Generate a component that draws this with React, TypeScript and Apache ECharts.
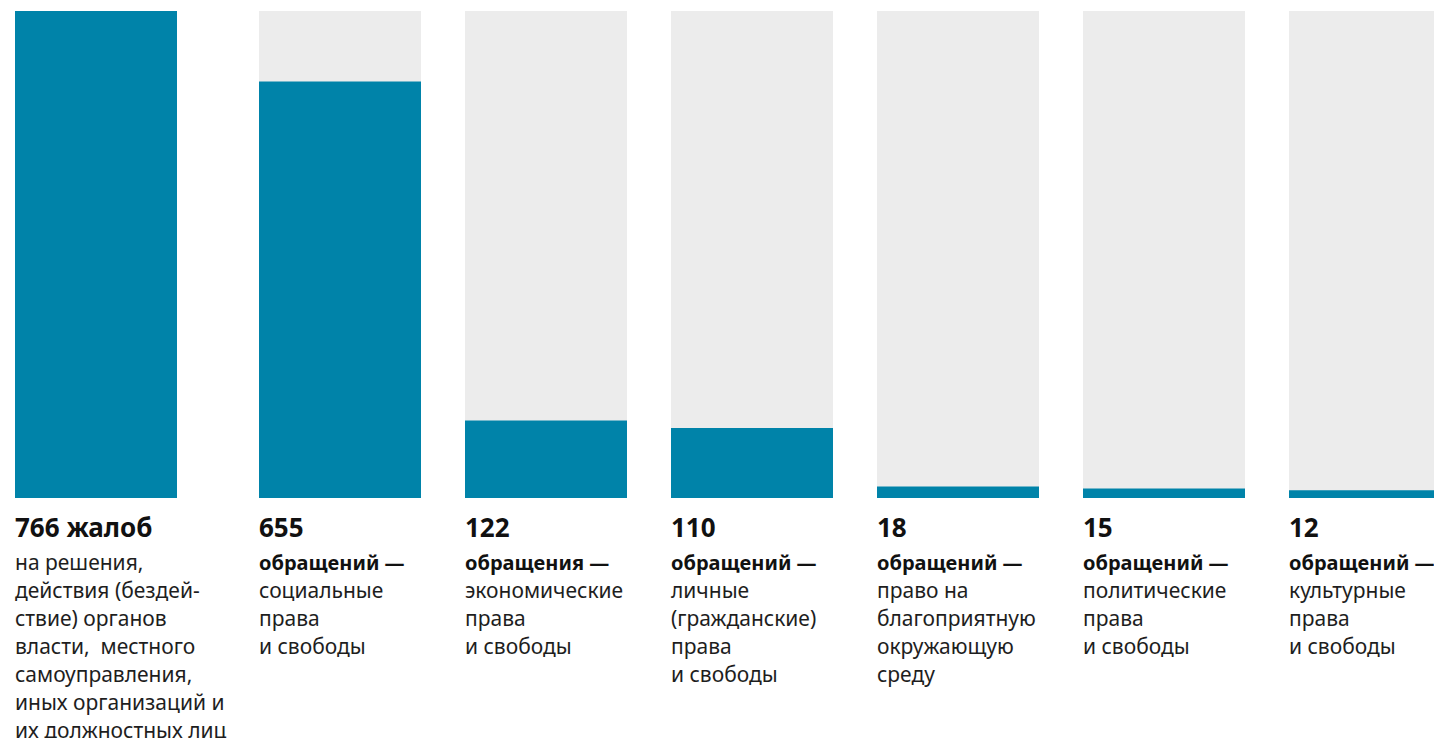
import React, { useEffect, useRef } from "react";
import * as echarts from "echarts";

const categories = ["жалобы", "социальные", "экономические", "личные", "среда", "политические", "культурные"];
const values = [766, 655, 122, 110, 18, 15, 12];
const maxValue = 766;
const headLines = ["766 жалоб", "655", "122", "110", "18", "15", "12"];
const boldLines = ["", "обращений —", "обращения —", "обращений —", "обращений —", "обращений —", "обращений —"];
const descLines = [
  ["на решения,", "действия (бездей-", "ствие) органов", "власти,  местного", "самоуправления,", "иных организаций и", "их должностных лиц"],
  ["социальные", "права", "и свободы"],
  ["экономические", "права", "и свободы"],
  ["личные", "(гражданские)", "права", "и свободы"],
  ["право на", "благоприятную", "окружающую", "среду"],
  ["политические", "права", "и свободы"],
  ["культурные", "права", "и свободы"],
];

const BLUE = "#0083a9";
const GREY = "#ececec";
const FONT = "'Noto Sans', 'Open Sans', sans-serif";

function labelText(i: number): string {
  const parts = [`{n|${headLines[i]}}`];
  if (boldLines[i]) parts.push(`{b|${boldLines[i]}}`);
  for (const l of descLines[i]) parts.push(`{t|${l}}`);
  return parts.join("\n");
}

export default function App() {
  const ref = useRef<HTMLDivElement>(null);
  useEffect(() => {
    if (!ref.current) return;
    const chart = echarts.init(ref.current, undefined, { renderer: "svg" });
    const rich = {
      n: { fontFamily: FONT, fontSize: 26, fontWeight: "bold", color: "#111", lineHeight: 42 },
      b: { fontFamily: FONT, fontSize: 20, fontWeight: "bold", color: "#111", lineHeight: 28 },
      t: { fontFamily: FONT, fontSize: 21, color: "#1e1e1e", lineHeight: 28 },
    };
    const label = {
      show: true,
      position: [0, "100%"],
      align: "left",
      verticalAlign: "top",
      padding: [8, 0, 0, 0],
      formatter: (p: any) => labelText(categories.indexOf(p.name)),
      rich,
    };
    const firstCats = categories.slice(0, 1);
    const restCats = categories.slice(1);
    const hiddenX = (idx: number, data: string[]) => ({
      type: "category",
      gridIndex: idx,
      data,
      axisLine: { show: false },
      axisTick: { show: false },
      axisLabel: { show: false },
    });
    const hiddenY = (idx: number) => ({
      type: "value",
      gridIndex: idx,
      min: 0,
      max: maxValue,
      show: false,
      splitLine: { show: false },
    });
    chart.setOption({
      animation: false,
      grid: [
        { left: 15, top: 11, width: 162, height: 487, outerBoundsMode: "none", containLabel: false },
        { left: 237, top: 11, width: 1236, height: 487, outerBoundsMode: "none", containLabel: false },
      ],
      xAxis: [hiddenX(0, firstCats), hiddenX(1, restCats)],
      yAxis: [hiddenY(0), hiddenY(1)],
      series: [
        {
          type: "bar", xAxisIndex: 0, yAxisIndex: 0, barWidth: 162, barGap: "-100%",
          data: firstCats.map(() => maxValue), itemStyle: { color: GREY }, label, silent: true,
        },
        {
          type: "bar", xAxisIndex: 0, yAxisIndex: 0, barWidth: 162, barGap: "-100%",
          data: values.slice(0, 1), itemStyle: { color: BLUE },
        },
        {
          type: "bar", xAxisIndex: 1, yAxisIndex: 1, barWidth: 162, barGap: "-100%",
          data: restCats.map(() => maxValue), itemStyle: { color: GREY }, label, silent: true,
        },
        {
          type: "bar", xAxisIndex: 1, yAxisIndex: 1, barWidth: 162, barGap: "-100%",
          data: values.slice(1), itemStyle: { color: BLUE },
        },
      ],
    });
    return () => chart.dispose();
  }, []);
  return (
    <div
      ref={ref}
      style={{ position: "fixed", left: 0, top: 0, width: 1434, height: 738, background: "#fff" }}
    />
  );
}
